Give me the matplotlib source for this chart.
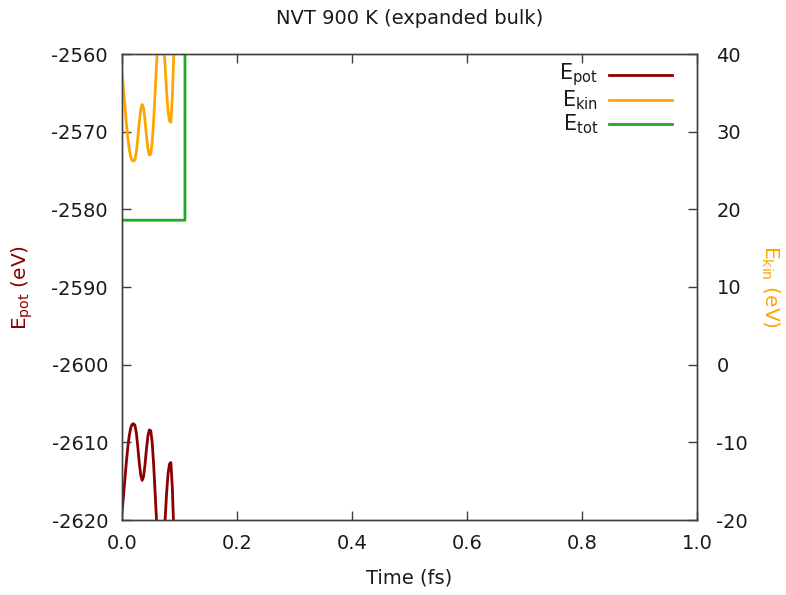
import matplotlib
matplotlib.use("Agg")
import matplotlib.pyplot as plt

plt.rcParams["font.family"] = ["DejaVu Sans"]
plt.rcParams["axes.unicode_minus"] = False

# Trajectory samples (time in fs)
time = [0.0, 0.0025, 0.005, 0.0075, 0.010, 0.0125, 0.015, 0.0175, 0.020, 0.0225,
        0.025, 0.0275, 0.030, 0.0325, 0.035, 0.0375, 0.040, 0.0425, 0.045, 0.0475,
        0.050, 0.0525, 0.055, 0.0575, 0.060, 0.0625, 0.065, 0.0675, 0.070, 0.0725,
        0.075, 0.0775, 0.080, 0.0825, 0.085, 0.0875, 0.090, 0.0925, 0.095, 0.0975,
        0.100]

e_pot = [-2619.0, -2617.0, -2614.8, -2612.6, -2610.7, -2609.2, -2608.2, -2607.7, -2607.6, -2607.8,
         -2608.8, -2610.6, -2612.6, -2614.2, -2614.9, -2614.4, -2612.9, -2610.9, -2609.2, -2608.4,
         -2608.5, -2610.0, -2612.8, -2616.3, -2620.0, -2623.0, -2625.0, -2625.6, -2624.8, -2622.8,
         -2619.9, -2616.6, -2614.1, -2612.8, -2612.6, -2615.8, -2621.2, -2626.0, -2631.0, -2635.0,
         -2638.0]

e_kin = [37.6, 35.6, 33.4, 31.2, 29.3, 27.8, 26.8, 26.3, 26.2, 26.4,
         27.4, 29.2, 31.2, 32.8, 33.5, 33.0, 31.5, 29.5, 27.8, 27.0,
         27.1, 28.6, 31.4, 34.9, 38.6, 41.6, 43.6, 44.2, 43.4, 41.4,
         38.5, 35.2, 32.7, 31.4, 31.2, 34.4, 39.8, 44.6, 49.6, 53.6,
         56.6]

time_tot = [0.0, 0.1095, 0.1096, 0.15]
e_tot = [-2581.4, -2581.4, -2530.0, -2530.0]

xticks = [0.0, 0.2, 0.4, 0.6, 0.8, 1.0]
yticks_left = [-2620, -2610, -2600, -2590, -2580, -2570, -2560]
yticks_right = [-20, -10, 0, 10, 20, 30, 40]

c_pot = "#8b0000"
c_kin = "#ffa500"
c_tot = "#22a822"
c_frame = "#404040"
c_text = "#1a1a1a"
fs = 14
lw = 2.0

W, H = 786, 595
fig = plt.figure(figsize=(W / 100, H / 100), dpi=100)
ax = fig.add_axes([122 / W, 1 - 520 / H, (697 - 122) / W, (520 - 54) / H])
ax2 = ax.twinx()

ax.plot(time, e_pot, color=c_pot, lw=lw)
ax.plot(time_tot, e_tot, color=c_tot, lw=lw)
ax2.plot(time, e_kin, color=c_kin, lw=lw)

ax.set_xlim(0, 1)
ax.set_ylim(-2620, -2560)
ax2.set_ylim(-20, 40)

ax.set_xticks(xticks)
ax.set_xticklabels([f"{v:.1f}" for v in xticks])
ax.set_yticks(yticks_left)
ax.set_yticklabels([str(v) for v in yticks_left])
ax2.set_yticks(yticks_right)
ax2.set_yticklabels([str(v) for v in yticks_right])

for a in (ax, ax2):
    for s in a.spines.values():
        s.set_color(c_frame)
        s.set_linewidth(1.0)

ax.tick_params(axis="x", direction="in", length=6.5, width=1.0, color=c_frame,
               top=True, labelsize=fs, pad=10, labelcolor=c_text)
ax.tick_params(axis="y", direction="in", length=6.5, width=1.0, color=c_frame,
               right=False, labelsize=fs, pad=10, labelcolor=c_text)
ax2.tick_params(axis="y", direction="in", length=6.5, width=1.0, color=c_frame,
                labelsize=fs, pad=14, labelcolor=c_text)

ax.set_xlabel("Time (fs)", fontsize=fs, color=c_text, labelpad=11)
fig.text(22 / W, 1 - 287 / H, r"E$_\mathregular{pot}$ (eV)", fontsize=14.5,
         color=c_pot, rotation=90, ha="center", va="center")
fig.text(770 / W, 1 - 287 / H, r"E$_\mathregular{kin}$ (eV)", fontsize=14.5,
         color=c_kin, rotation=-90, ha="center", va="center")
fig.text(410 / W, 1 - 18 / H, "NVT 900 K (expanded bulk)", fontsize=fs,
         color=c_text, ha="center", va="center")

# Key: labels right-aligned ahead of their line samples
entries = [(r"E$_\mathregular{pot}$", c_pot, 75),
           (r"E$_\mathregular{kin}$", c_kin, 100),
           (r"E$_\mathregular{tot}$", c_tot, 124)]
for label, col, ypx in entries:
    yf = 1 - (ypx - 54) / (520 - 54)
    x0 = (609 - 122) / 575
    x1 = (672 - 122) / 575
    ax.plot([x0, x1], [yf, yf], color=col, lw=lw, transform=ax.transAxes, clip_on=False)
    ax.text((598 - 122) / 575, yf, label, transform=ax.transAxes, ha="right",
            va="center", fontsize=15, color=c_text)

fig.savefig("out.png", dpi=100)
